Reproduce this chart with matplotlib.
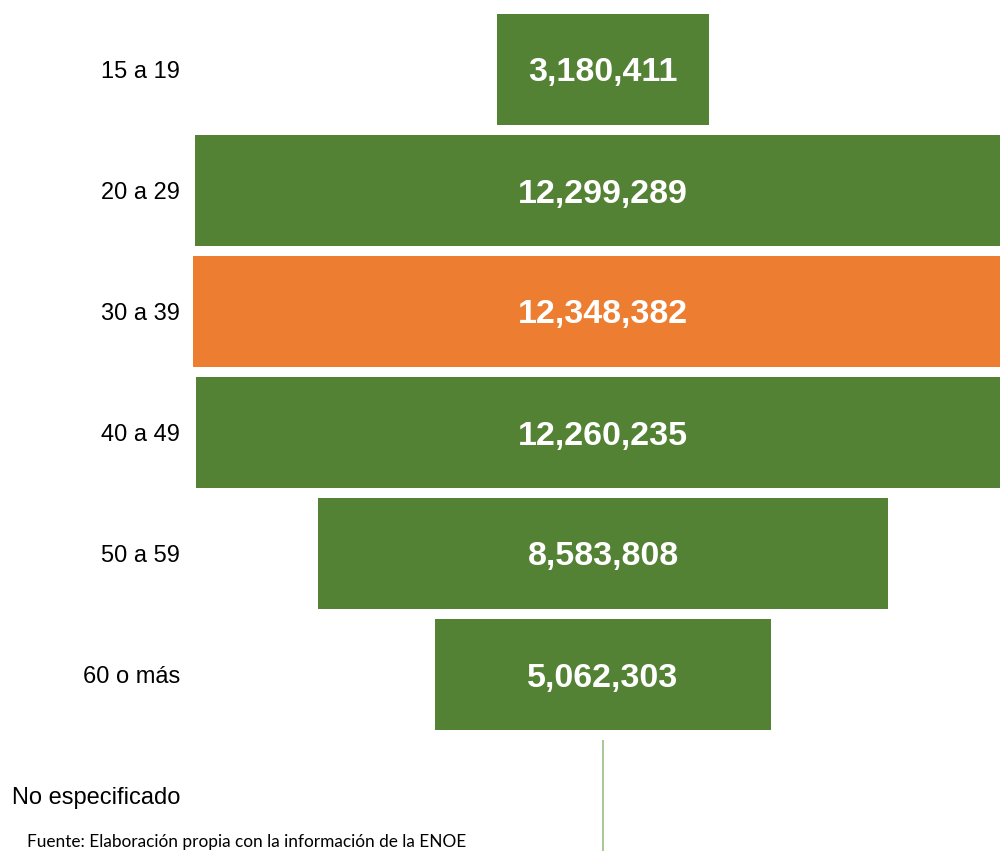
import matplotlib
matplotlib.use("Agg")
import matplotlib.pyplot as plt

# age groups, top to bottom
grupos = ["15 a 19", "20 a 29", "30 a 39", "40 a 49", "50 a 59", "60 o más", "No especificado"]
valores = [3180411, 12299289, 12348382, 12260235, 8583808, 5062303, 30000]
etiquetas = ["3,180,411", "12,299,289", "12,348,382", "12,260,235", "8,583,808", "5,062,303", ""]
colores = ["#548235", "#548235", "#ED7D31", "#548235", "#548235", "#548235", "#A9C89A"]
fuente = "Fuente: Elaboración propia con la información de la ENOE"

fig = plt.figure(figsize=(10, 8.52), dpi=100)
ax = fig.add_axes([0, 0, 1, 1])

pos = list(range(len(grupos)))
izq = [-v / 2 for v in valores]
ax.barh(pos, valores, left=izq, height=0.92, color=colores, edgecolor="none")

for i in pos:
    if etiquetas[i]:
        ax.text(0, i, etiquetas[i], ha="center", va="center_baseline", color="white",
                fontsize=24.5, fontweight="bold", family="Liberation Sans")
    ax.text(0.18, i, grupos[i], transform=ax.get_yaxis_transform(),
            ha="right", va="center_baseline", fontsize=17, family="Liberation Sans")

# px per million ~66.4, funnel center at x=603 px
ax.set_xlim(-603 / 66.4 * 1e6, 397 / 66.4 * 1e6)
ax.set_ylim((852 - 69.5) / 121, -69.5 / 121)
ax.axis("off")

fig.text(0.027, 0.002, fuente, ha="left", va="bottom", fontsize=12.4, family="Lato")

fig.savefig("out.png", dpi=100)
